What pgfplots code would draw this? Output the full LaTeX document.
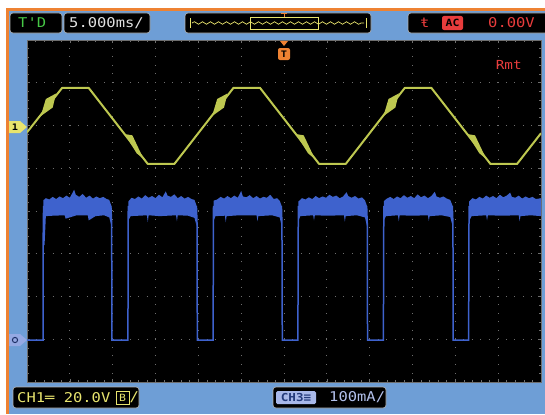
\documentclass[border=0pt]{standalone}
\usepackage{pgfplots}
\pgfplotsset{compat=1.18}
\usepackage{fontspec}
\newfontfamily\lcd[FakeStretch=1.15]{DejaVu Sans Mono}
\usetikzlibrary{decorations.pathmorphing}
\definecolor{frameblue}{RGB}{110,158,214}
\definecolor{orangeb}{RGB}{238,130,50}
\definecolor{ytrace}{RGB}{190,200,80}
\definecolor{btrace}{RGB}{62,98,205}
\definecolor{lcdgreen}{RGB}{70,200,70}
\definecolor{lcdred}{RGB}{232,60,60}
\definecolor{lcdyellow}{RGB}{232,228,110}
\definecolor{lcdwhite}{RGB}{225,225,225}
\definecolor{gridc}{RGB}{110,110,110}
\begin{document}
\begin{tikzpicture}[x=1bp,y=1bp]
\useasboundingbox (0,0) rectangle (545,414);
\fill[white] (0,0) rectangle (545,414);
\fill[orangeb] (6,0) rectangle (545,406);
\fill[frameblue] (9,0) rectangle (545,403);
\tikzset{lcdbox/.style={fill=black, rounded corners=3bp, draw=gray!60, line width=0.6bp},
         lcdtxt/.style={inner sep=0pt, anchor=west, font=\lcd\fontsize{13.5}{14}\selectfont}}
% ---------- top status boxes
\draw[lcdbox] (10,381) rectangle (62,401);
\node[lcdtxt, text=lcdgreen] at (18,391) {T'D};
\draw[lcdbox] (64,381) rectangle (150,401);
\node[lcdtxt, text=lcdwhite] at (69,391) {5.000ms/};
\draw[lcdbox] (185,381) rectangle (371,401);
\draw[lcdyellow, line width=0.7bp, decorate, decoration={snake, amplitude=1.3bp, segment length=8bp}] (192,391) -- (364,391);
\draw[lcdyellow, line width=0.7bp] (190,386) -- (190,396) (366,386) -- (366,396);
\draw[lcdyellow, line width=0.7bp] (250,385) rectangle (318,397);
\draw[orangeb, line width=0.8bp] (284,397) -- (284,401) (281,401) -- (287,401);
\draw[lcdbox] (408,381) rectangle (560,401);
\node[lcdtxt, text=lcdred] at (420,391) {ŧ};
\fill[lcdred, rounded corners=2bp] (442,384) rectangle (463,398);
\node[inner sep=0pt, font=\lcd\fontsize{10}{10}\selectfont\bfseries, text=black] at (452.5,391) {AC};
\node[lcdtxt, text=lcdred] at (488,391) {0.00V};
% ---------- bottom status boxes
\draw[lcdbox] (13,6) rectangle (139,27);
\node[lcdtxt, text=lcdyellow] at (17,16.5) {CH1═ 20.0V};
\draw[lcdyellow, line width=0.7bp] (116,10) rectangle (129,23);
\node[inner sep=0pt, font=\lcd\fontsize{10}{10}\selectfont, text=lcdyellow] at (122.5,16.5) {B};
\node[lcdtxt, text=lcdyellow] at (129.5,16.5) {/};
\draw[lcdbox] (273,6) rectangle (386,27);
\fill[btrace!45!white, rounded corners=1.5bp] (276,10) rectangle (316,23);
\node[inner sep=0pt, font=\lcd\fontsize{11}{11}\selectfont\bfseries, text=btrace!60!black] at (296,16.5) {CH3≡};
\node[lcdtxt, text=btrace!40!white] at (329,16.5) {100mA/};
% ---------- screen
\begin{axis}[at={(27bp,32bp)}, anchor=south west, scale only axis,
  width=514bp, height=342bp,
  xmin=0, xmax=60, ymin=-4, ymax=4,
  axis background/.style={fill=black},
  xtick={0,5,...,60}, ytick={-4,-3,...,4},
  minor x tick num=4, minor y tick num=4,
  xticklabels={}, yticklabels={},
  tick align=inside, major tick length=3bp, minor tick length=2bp,
  tick style={gridc, line width=0.6bp},
  grid=major,
  major grid style={gridc, line width=0.9bp, dash pattern=on 0.9bp off 7.65bp},
  axis line style={gridc, line width=0.6bp},
]
% CH1 (yellow) clipped sine, 50 Hz
\addplot[ytrace, line width=2bp, line join=round] coordinates {
 (0,1.84) (4.1,2.88) (7.2,2.88) (14.1,1.10) (17.2,1.10) (24.1,2.88) (27.2,2.88)
 (34.1,1.10) (37.2,1.10) (44.1,2.88) (47.2,2.88) (54.1,1.10) (57.2,1.10) (60,1.82)};
% noisy thick patches on CH1
\addplot[fill=ytrace, draw=none] coordinates {(1.6,2.22) (2.2,2.62) (3.4,2.75) (3.0,2.42)} -- cycle;
\addplot[fill=ytrace, draw=none] coordinates {(11.4,1.80) (12.3,1.77) (13.6,1.22) (12.8,1.35)} -- cycle;
\addplot[fill=ytrace, draw=none] coordinates {(21.6,2.22) (22.2,2.62) (23.4,2.75) (23.0,2.42)} -- cycle;
\addplot[fill=ytrace, draw=none] coordinates {(31.4,1.80) (32.3,1.77) (33.6,1.22) (32.8,1.35)} -- cycle;
\addplot[fill=ytrace, draw=none] coordinates {(41.6,2.22) (42.2,2.62) (43.4,2.75) (43.0,2.42)} -- cycle;
\addplot[fill=ytrace, draw=none] coordinates {(51.4,1.80) (52.3,1.77) (53.6,1.22) (52.8,1.35)} -- cycle;
% CH3 (blue) current pulses
\addplot[btrace, line width=1.5bp] coordinates {
 (0,-3.02) (1.87,-3.02) (1.9,-0.2) (1.95,0.1) (9.8,0.1) (9.88,-0.3) (9.92,-3.02)
 (11.78,-3.02) (11.82,0.1) (19.78,0.1) (19.85,-0.3) (19.88,-3.02)
 (21.72,-3.02) (21.77,0.1) (29.7,0.1) (29.76,-0.3) (29.8,-3.02)
 (31.62,-3.02) (31.67,0.1) (39.65,0.1) (39.72,-0.3) (39.75,-3.02)
 (41.6,-3.02) (41.65,0.1) (49.65,0.1) (49.72,-0.3) (49.75,-3.02)
 (51.55,-3.02) (51.6,0.1) (60,0.1)};
% noisy high-level bands
\addplot[fill=btrace, draw=none] coordinates {
 (1.9,0.25) (2.2,0.30) (2.6,0.27) (3.0,0.33) (3.4,0.28) (3.8,0.34) (4.2,0.30) (4.6,0.36)
 (5.0,0.31) (5.3,0.42) (5.5,0.50) (5.7,0.38) (6.1,0.33) (6.5,0.40) (6.9,0.31) (7.3,0.36)
 (7.7,0.29) (8.1,0.34) (8.5,0.30) (8.9,0.33) (9.3,0.28) (9.6,0.26) (9.85,0.12)
 (9.85,-0.35) (9.6,-0.15) (9.0,-0.10) (8.0,-0.12) (7.2,-0.22) (7.1,-0.10) (5.8,-0.10)
 (4.5,-0.18) (4.4,-0.10) (3.0,-0.11) (2.2,-0.12) (2.05,-0.8) (1.9,-0.8)} -- cycle;
\addplot[fill=btrace, draw=none] coordinates {
 (11.82,0.22) (12.2,0.31) (12.6,0.28) (13.0,0.34) (13.4,0.29) (13.8,0.37) (14.2,0.31)
 (14.6,0.35) (15.0,0.30) (15.4,0.38) (15.8,0.32) (16.2,0.46) (16.4,0.36) (16.8,0.33)
 (17.2,0.39) (17.6,0.30) (18.0,0.35) (18.4,0.29) (18.8,0.33) (19.2,0.28) (19.55,0.26) (19.8,0.12)
 (19.8,-0.35) (19.55,-0.16) (18.8,-0.11) (17.6,-0.10) (17.5,-0.24) (17.4,-0.10) (15.5,-0.12)
 (14.2,-0.10) (14.1,-0.26) (14.0,-0.10) (12.1,-0.12) (11.9,-0.2)} -- cycle;
\addplot[fill=btrace, draw=none] coordinates {
 (21.77,0.24) (22.2,0.27) (22.6,0.33) (23.0,0.29) (23.4,0.35) (23.8,0.30) (24.2,0.36)
 (24.6,0.31) (25.0,0.47) (25.2,0.34) (25.6,0.32) (26.0,0.37) (26.4,0.30) (26.8,0.35)
 (27.2,0.29) (27.6,0.33) (28.0,0.31) (28.4,0.38) (28.8,0.28) (29.2,0.30) (29.5,0.24) (29.72,0.12)
 (29.72,-0.35) (29.5,-0.15) (28.6,-0.10) (27.0,-0.12) (26.9,-0.24) (26.8,-0.10) (24.8,-0.10)
 (23.3,-0.12) (23.2,-0.26) (23.1,-0.11) (22.0,-0.12) (21.85,-0.2)} -- cycle;
\addplot[fill=btrace, draw=none] coordinates {
 (31.67,0.22) (32.1,0.30) (32.5,0.27) (32.9,0.32) (33.3,0.28) (33.7,0.35) (34.1,0.30)
 (34.5,0.34) (34.9,0.31) (35.3,0.38) (35.7,0.33) (36.1,0.36) (36.5,0.30) (36.9,0.34)
 (37.3,0.44) (37.5,0.35) (37.9,0.31) (38.3,0.35) (38.7,0.29) (39.1,0.32) (39.45,0.25) (39.68,0.12)
 (39.68,-0.35) (39.45,-0.15) (38.5,-0.10) (37.2,-0.12) (37.1,-0.25) (37.0,-0.10) (35.0,-0.11)
 (33.6,-0.10) (33.5,-0.22) (33.4,-0.10) (31.9,-0.12) (31.75,-0.2)} -- cycle;
\addplot[fill=btrace, draw=none] coordinates {
 (41.65,0.23) (42.0,0.29) (42.4,0.33) (42.8,0.28) (43.2,0.34) (43.6,0.30) (44.0,0.37)
 (44.4,0.31) (44.8,0.35) (45.2,0.30) (45.6,0.39) (46.0,0.32) (46.4,0.36) (46.8,0.30)
 (47.2,0.35) (47.6,0.45) (47.8,0.34) (48.2,0.31) (48.6,0.34) (49.0,0.29) (49.4,0.26) (49.68,0.12)
 (49.68,-0.35) (49.4,-0.14) (48.4,-0.10) (47.0,-0.12) (46.9,-0.23) (46.8,-0.10) (44.9,-0.11)
 (43.5,-0.10) (43.4,-0.24) (43.3,-0.10) (41.9,-0.12) (41.7,-0.2)} -- cycle;
\addplot[fill=btrace, draw=none] coordinates {
 (51.6,0.22) (52.0,0.30) (52.4,0.27) (52.8,0.33) (53.2,0.29) (53.6,0.36) (54.0,0.31)
 (54.4,0.35) (54.8,0.30) (55.2,0.38) (55.6,0.32) (56.0,0.36) (56.4,0.43) (56.6,0.33)
 (57.0,0.31) (57.4,0.36) (57.8,0.29) (58.2,0.34) (58.6,0.30) (59.0,0.33) (59.4,0.28) (60,0.30)
 (60,-0.12) (58.8,-0.10) (57.6,-0.12) (57.5,-0.24) (57.4,-0.10) (55.4,-0.11)
 (53.8,-0.10) (53.7,-0.22) (53.6,-0.10) (51.9,-0.12) (51.7,-0.2)} -- cycle;
% Remote indicator
\node[inner sep=0pt, anchor=west, text=lcdred, font=\lcd\fontsize{12.5}{13}\selectfont] at (axis cs:54.7,3.42) {Rmt};
\end{axis}
% ---------- channel and trigger markers
\fill[lcdyellow] (9,281) -- (20,281) -- (27,287) -- (20,293) -- (9,293) -- cycle;
\node[inner sep=0pt, font=\lcd\fontsize{9}{9}\selectfont\bfseries, text=black] at (15,287) {1};
\fill[btrace!55!white] (9,68) -- (20,68) -- (27,74) -- (20,80) -- (9,80) -- cycle;
\draw[btrace!50!black, line width=1bp] (15,74) circle (2.6bp);
\fill[orangeb] (280,373) -- (288,373) -- (284,368) -- cycle;
\fill[orangeb, rounded corners=2bp] (278,354) rectangle (290,366);
\node[inner sep=0pt, font=\lcd\fontsize{9}{9}\selectfont\bfseries, text=black] at (284,360) {T};
\end{tikzpicture}
\end{document}
